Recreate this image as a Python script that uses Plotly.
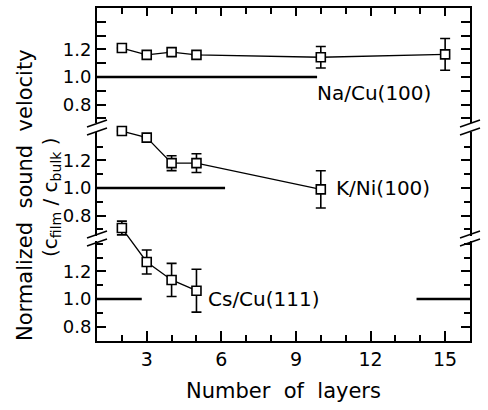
import plotly.graph_objects as go

# ---------------- data ----------------
layers_na = [2, 3, 4, 5, 10, 15]
vel_na = [1.21, 1.16, 1.18, 1.16, 1.143, 1.164]
err_na = [0, 0, 0, 0, 0.078, 0.115]

layers_k = [2, 3, 4, 5, 10]
vel_k = [1.413, 1.365, 1.18, 1.18, 0.99]
err_k = [0, 0, 0.054, 0.068, 0.135]

layers_cs = [2, 3, 4, 5]
vel_cs = [1.514, 1.268, 1.138, 1.06]
err_cs = [0.05, 0.087, 0.12, 0.155]

# bulk reference lines (c_film / c_bulk = 1)
ref_na_x = [1, 9.85]
ref_k_x = [1, 6.15]
ref_cs_x1 = [1, 2.8]
ref_cs_x2 = [13.85, 16]
ref_y = [1.0, 1.0]

labels = ["Na/Cu(100)", "K/Ni(100)", "Cs/Cu(111)"]
label_pos = [(9.76, 0.884), (10.52, 1.0), (5.4, 1.0)]

x_ticks = [3, 6, 9, 12, 15]
y_ticks = [0.8, 1.0, 1.2]
y_ticktext = ["0.8", "1.0", "1.2"]
y_minor = [0.7, 0.9, 1.1, 1.3, 1.4]

# ---------------- layout geometry ----------------
W, H = 488, 410
ML, MR, MT, MB = 97, 18, 8, 69
PH = H - MT - MB

def pdom(top_px, bot_px):
    return [(H - MB - bot_px) / PH, (H - MB - top_px) / PH]

# panel domains (pixel rows of the visible axis pieces) and value ranges
domains = [pdom(8, 123), pdom(132, 236), pdom(241, 341)]
ranges = [[0.6667, 1.5], [0.652, 1.406], [0.696, 1.42]]

def full_range(rng, dom):
    upp = (rng[1] - rng[0]) / (dom[1] - dom[0])
    return [rng[0] - dom[0] * upp, rng[1] + (1 - dom[1]) * upp]

FONT = "DejaVu Sans"
BLACK = "black"

fig = go.Figure()

# helper (empty) traces so that every axis pair forms a subplot
for yname in ("y", "y2", "y3"):
    fig.add_trace(go.Scatter(x=[], y=[], xaxis="x", yaxis=yname,
                             showlegend=False, hoverinfo="skip"))
fig.add_trace(go.Scatter(x=[], y=[], xaxis="x2", yaxis="y",
                         showlegend=False, hoverinfo="skip"))

series = [
    (layers_na, vel_na, err_na),
    (layers_k, vel_k, err_k),
    (layers_cs, vel_cs, err_cs),
]
ref_lines = [[ref_na_x], [ref_k_x], [ref_cs_x1, ref_cs_x2]]

for i, (xs, ys, es) in enumerate(series):
    yref = "y%d" % (i + 4)
    for rx in ref_lines[i]:
        fig.add_trace(go.Scatter(
            x=rx, y=ref_y, mode="lines", xaxis="x", yaxis=yref,
            line=dict(color=BLACK, width=2.6), showlegend=False,
            hoverinfo="skip"))
    fig.add_trace(go.Scatter(
        x=xs, y=ys, mode="lines+markers", xaxis="x", yaxis=yref,
        line=dict(color=BLACK, width=1.3),
        marker=dict(symbol="square", size=9, color="white",
                    line=dict(color=BLACK, width=1.6)),
        error_y=dict(type="data", array=es, color=BLACK, thickness=1.6,
                     width=5),
        showlegend=False, cliponaxis=False))

axis_common = dict(
    showline=True, linecolor=BLACK, linewidth=2, mirror="allticks",
    ticks="inside", ticklen=9, tickwidth=1.5, tickcolor=BLACK,
    showgrid=False, zeroline=False,
)

layout = dict(
    width=W, height=H,
    margin=dict(l=ML, r=MR, t=MT, b=MB),
    paper_bgcolor="white", plot_bgcolor="rgba(0,0,0,0)",
    font=dict(family=FONT, color=BLACK),
    showlegend=False,
    xaxis=dict(
        range=[1, 16], domain=[0, 1], anchor="y3",
        tickvals=x_ticks, ticktext=[str(v) for v in x_ticks],
        tickfont=dict(size=19, family=FONT),
        showline=True, linecolor=BLACK, linewidth=2,
        ticks="inside", ticklen=10, tickwidth=1.5, tickcolor=BLACK,
        minor=dict(dtick=1, tick0=0, ticks="inside", ticklen=6,
                   tickwidth=1.5, tickcolor=BLACK),
        showgrid=False, zeroline=False,
    ),
    xaxis2=dict(
        range=[1, 16], domain=[0, 1], anchor="y", side="top", matches="x",
        tickvals=x_ticks, showticklabels=False,
        showline=True, linecolor=BLACK, linewidth=2,
        ticks="inside", ticklen=8, tickwidth=1.5, tickcolor=BLACK,
        minor=dict(dtick=1, tick0=0, ticks="inside", ticklen=6,
                   tickwidth=1.5, tickcolor=BLACK),
        showgrid=False, zeroline=False,
    ),
)

for i in range(3):
    name = "yaxis" if i == 0 else "yaxis%d" % (i + 1)
    layout[name] = dict(
        axis_common, domain=domains[i], range=ranges[i], anchor="x",
        tickvals=y_ticks, ticktext=y_ticktext,
        tickfont=dict(size=18, family=FONT),
        minor=dict(tickvals=y_minor, ticks="inside", ticklen=6,
                   tickwidth=1.5, tickcolor=BLACK),
    )
    layout["yaxis%d" % (i + 4)] = dict(
        domain=[0, 1], range=full_range(ranges[i], domains[i]),
        anchor="x", visible=False, showgrid=False, zeroline=False,
    )

fig.update_layout(**layout)

# panel labels
for i, (txt, (lx, ly)) in enumerate(zip(labels, label_pos)):
    fig.add_annotation(
        x=lx, y=ly, xref="x", yref="y%d" % (i + 4), text=txt,
        showarrow=False, xanchor="left", yanchor="middle",
        font=dict(size=20, family=FONT, color=BLACK))

# axis titles
NB = "\u00a0"
fig.add_annotation(
    x=(25 - ML) / (W - ML - MR), y=(H - MB - 195) / PH, xref="paper",
    yref="paper", textangle=-90, showarrow=False,
    xanchor="center", yanchor="middle",
    text="Normalized" + NB * 2 + "sound" + NB * 2 + "velocity",
    font=dict(size=21, family=FONT, color=BLACK))
fig.add_annotation(
    x=(51 - ML) / (W - ML - MR), y=(H - MB - 197) / PH, xref="paper",
    yref="paper", textangle=-90, showarrow=False,
    xanchor="center", yanchor="middle",
    text="(c<sub>film</sub>" + NB + "/" + NB + "c<sub>bulk</sub>" + NB + ")",
    font=dict(size=20, family=FONT, color=BLACK))
fig.add_annotation(
    x=0.5, y=(H - MB - 391) / PH, xref="paper", yref="paper",
    showarrow=False, xanchor="center", yanchor="middle",
    text="Number" + NB * 2 + "of" + NB * 2 + "layers",
    font=dict(size=21, family=FONT, color=BLACK))

# axis-break marks (double slashes at the gaps)
gaps = [(domains[0][0] + domains[1][1]) / 2, (domains[1][0] + domains[2][1]) / 2]
for gy in gaps:
    for xa in (0, 1):
        for off in (-4, 4):
            fig.add_shape(
                type="line", xref="paper", yref="paper",
                xsizemode="pixel", ysizemode="pixel",
                xanchor=xa, yanchor=gy,
                x0=-10, x1=10, y0=off - 3.5, y1=off + 3.5,
                line=dict(color=BLACK, width=1.5))

fig.write_html("out.html")
